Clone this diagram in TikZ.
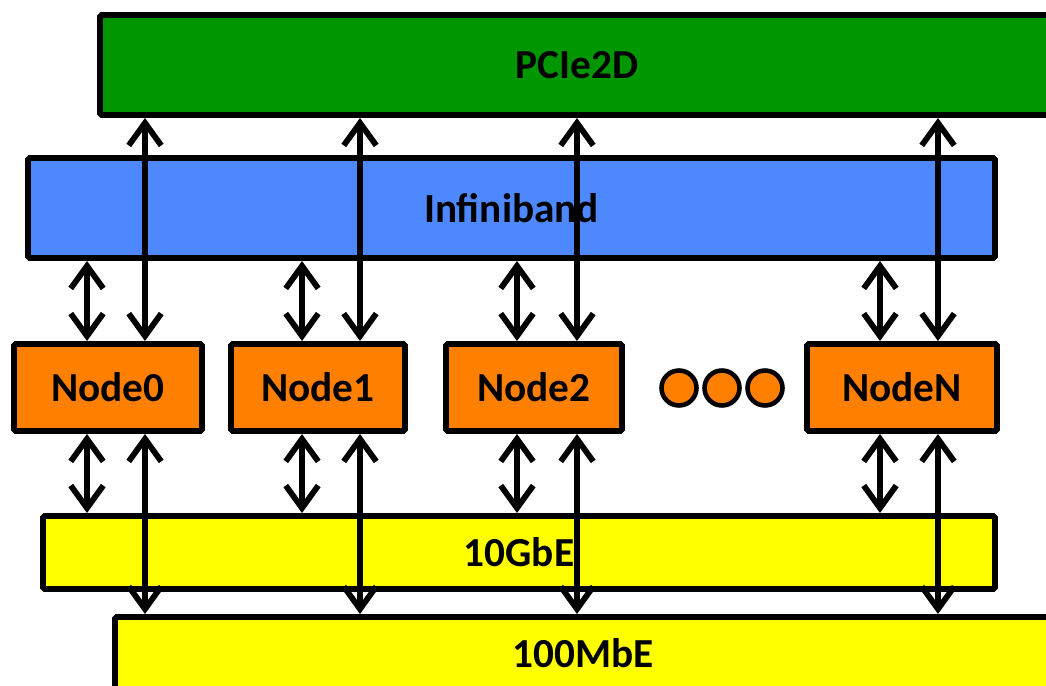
\documentclass[tikz,border=0pt]{standalone}
\usepackage{fontspec}
\setmainfont{Carlito}
\usetikzlibrary{arrows.meta}

\definecolor{pciegreen}{RGB}{0,150,0}
\definecolor{ibblue}{RGB}{77,136,255}
\definecolor{hostorange}{RGB}{255,128,0}
\definecolor{ethyellow}{RGB}{255,255,0}

\begin{document}
\begin{tikzpicture}[
>={Straight Barb[length=4.5mm,width=6.5mm]},
bus/.style={
draw,
line width=3.4pt,
rounded corners=1pt,
inner sep=0pt,
minimum height=2cm,
font=\bfseries\fontsize{23.5}{28}\selectfont
},
host/.style={
bus,
fill=hostorange,
minimum height=1.74cm
},
dot/.style={
circle,
draw,
line width=2.6pt,
fill=hostorange,
inner sep=0pt,
minimum size=0.70cm
},
link/.style={<->, line width=3.3pt}
]

\useasboundingbox (0,0) rectangle (20.92,-13.72);
\clip (0,0) rectangle (20.92,-13.72);

\node[bus, fill=pciegreen, minimum width=19.08cm] (P) at (11.54,-1.30)
{PCIe2D};

\node[bus, fill=ibblue, minimum width=19.34cm] (IB) at (10.23,-4.16)
{Infiniband};

\node[host, minimum width=3.76cm] (N0) at (2.16,-7.75)
{Node0};

\node[host, minimum width=3.48cm] (N1) at (6.36,-7.75)
{Node1};

\node[host, minimum width=3.52cm] (N2) at (10.68,-7.75)
{Node2};

\node[host, minimum width=3.80cm] (NN) at (18.04,-7.75)
{NodeN};

\foreach \x [count=\i] in {13.58,14.44,15.30}
\node[dot] (d\i) at (\x,-7.76) {};

\node[bus, fill=ethyellow, minimum width=19.04cm, minimum height=1.46cm] (G) at (10.38,-11.05)
{10GbE};

\node[bus, fill=ethyellow, minimum width=18.72cm, minimum height=1.44cm] (M) at (11.66,-13.06)
{100MbE};

% short links to the buses beside, long ones across them
\foreach \n/\l/\r in {N0/1.74/2.90, N1/6.04/7.20, N2/10.34/11.54, NN/17.60/18.76} {
\coordinate (L) at (\l,0);
\coordinate (R) at (\r,0);
\draw[link] (IB.south -| L) -- (\n.north -| L);
\draw[link] (P.south -| R) -- (\n.north -| R);
\draw[link] (\n.south -| L) -- (G.north -| L);
\draw[link] (\n.south -| R) -- (M.north -| R);
}

\end{tikzpicture}
\end{document}
